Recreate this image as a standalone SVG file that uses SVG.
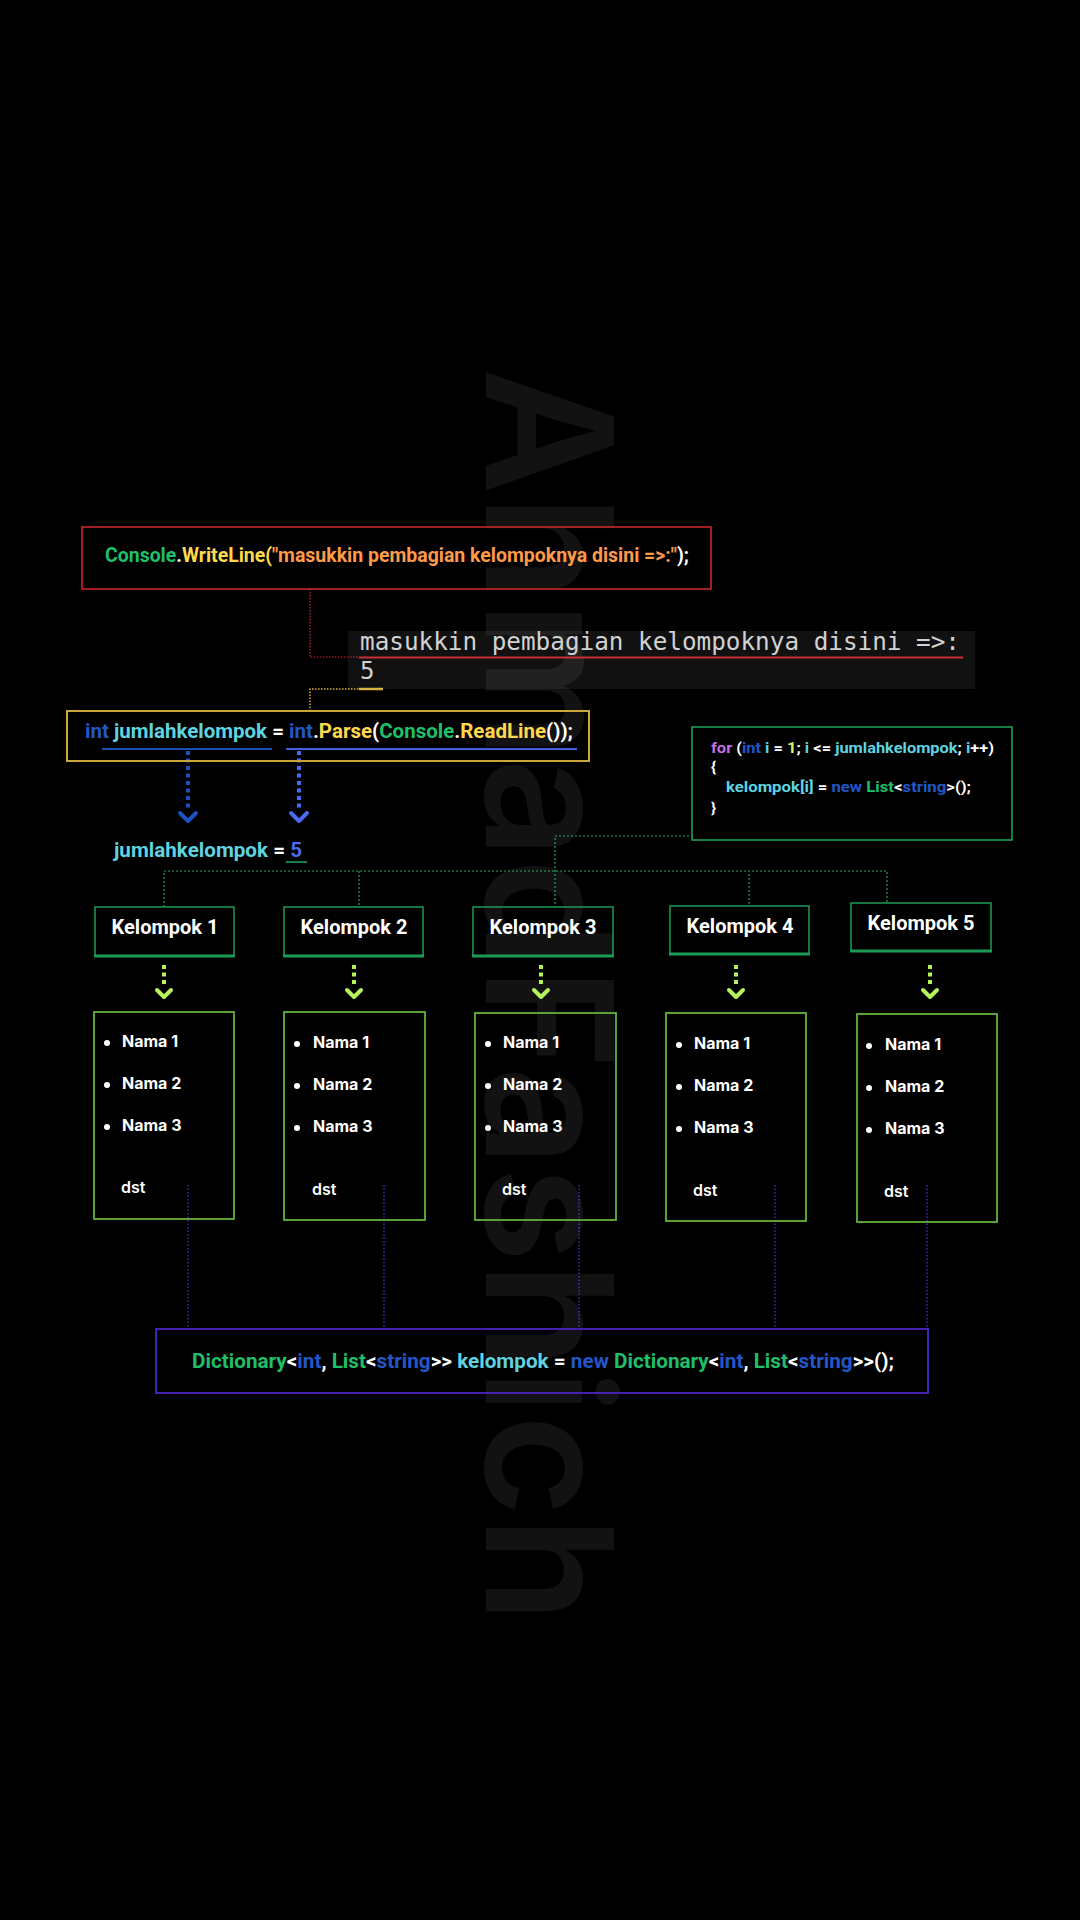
<svg xmlns="http://www.w3.org/2000/svg" width="1080" height="1920" viewBox="0 0 1080 1920">
<style>
.code{font-family:Roboto,"Liberation Sans",sans-serif;font-weight:700}
.mono{font-family:"DejaVu Sans Mono","Liberation Mono",monospace;fill:#d2d2d2}
.lbl{font-family:Roboto,"Liberation Sans",sans-serif;font-weight:700;font-size:20px;fill:#ffffff;text-anchor:middle}
.nm{font-family:Inter,"Liberation Sans",sans-serif;font-weight:700;font-size:16px;fill:#ffffff}
.dst{font-family:Inter,"Liberation Sans",sans-serif;font-weight:600;font-size:16px;fill:#ffffff}
.kbox{fill:none;stroke:#1c9b56;stroke-width:1.5}
.kbot{stroke:#1c9b56;stroke-width:3}
.nbox{fill:none;stroke:#62b23a;stroke-width:1.8}
.gdot{fill:none;stroke:#1fa85c;stroke-width:1.2;stroke-dasharray:2 2}
.pdot{fill:none;stroke:#5a32e6;stroke-width:1.2;stroke-dasharray:1.5 2}
.lime{fill:none;stroke:#b6f25a;stroke-width:4;stroke-dasharray:4 3.5}
.limeh{fill:none;stroke:#b6f25a;stroke-width:4;stroke-linecap:round;stroke-linejoin:round}
.w{fill:#ffffff}.g{fill:#1fbf6a}.y{fill:#ffd84d}.o{fill:#ff9a4a}.b{fill:#2157c8}.c{fill:#5fd3e0}.p{fill:#c46ee0}
</style>
<rect width="1080" height="1920" fill="#000000"/>
<text transform="translate(486,368) rotate(90)" font-family="Inter,'Liberation Sans',sans-serif" font-weight="600" font-size="176" fill="#121212" textLength="1255" lengthAdjust="spacingAndGlyphs">AhmadFashich</text>

<g id="connectors">
  <path d="M310,589 V657 H359" fill="none" stroke="#d0262e" stroke-width="1.2" stroke-dasharray="1.5 1.5"/>
  <line x1="359" y1="657.5" x2="963" y2="657.5" stroke="#c4202a" stroke-width="2"/>
  <path d="M310,711 V689 H359" fill="none" stroke="#d6b23a" stroke-width="1.5" stroke-dasharray="1.5 1.5"/>
  <line x1="359" y1="689" x2="383" y2="689" stroke="#d6b23a" stroke-width="2.5"/>
  <line x1="102" y1="749" x2="272" y2="749" stroke="#1a4fb0" stroke-width="2"/>
  <line x1="286" y1="749" x2="577" y2="749" stroke="#3c60e0" stroke-width="2"/>
  <line x1="188" y1="751" x2="188" y2="811" stroke="#1a52c0" stroke-width="4" stroke-dasharray="4 3.5"/>
  <path d="M180,813 L188,821 L196,813" fill="none" stroke="#1a52c0" stroke-width="4" stroke-linecap="round" stroke-linejoin="round"/>
  <line x1="299" y1="751" x2="299" y2="811" stroke="#4a6af0" stroke-width="4" stroke-dasharray="4 3.5"/>
  <path d="M291,813 L299,821 L307,813" fill="none" stroke="#4a6af0" stroke-width="4" stroke-linecap="round" stroke-linejoin="round"/>
  <line x1="286" y1="862" x2="307" y2="862" stroke="#1fa85c" stroke-width="1.5"/>
  <path class="gdot" d="M693,836 H555 V908"/>
  <path class="gdot" d="M164,907 V871 H887 V903"/>
  <path class="gdot" d="M359,871 V907"/>
  <path class="gdot" d="M749,874 V906"/>
  <line class="lime" x1="164" y1="965" x2="164" y2="987"/><path class="limeh" d="M157,990 L164,997 L171,990"/>
  <line class="lime" x1="354" y1="965" x2="354" y2="987"/><path class="limeh" d="M347,990 L354,997 L361,990"/>
  <line class="lime" x1="541" y1="965" x2="541" y2="987"/><path class="limeh" d="M534,990 L541,997 L548,990"/>
  <line class="lime" x1="736" y1="965" x2="736" y2="987"/><path class="limeh" d="M729,990 L736,997 L743,990"/>
  <line class="lime" x1="930" y1="965" x2="930" y2="987"/><path class="limeh" d="M923,990 L930,997 L937,990"/>
  <line class="pdot" x1="188" y1="1185" x2="188" y2="1329"/>
  <line class="pdot" x1="384" y1="1185" x2="384" y2="1329"/>
  <line class="pdot" x1="579" y1="1185" x2="579" y2="1329"/>
  <line class="pdot" x1="775" y1="1185" x2="775" y2="1329"/>
  <line class="pdot" x1="927" y1="1185" x2="927" y2="1329"/>
</g>

<g id="writeline">
  <rect x="82" y="527" width="629" height="62" fill="none" stroke="#d8262e" stroke-width="1.5"/>
  <text class="code" x="105" y="562" font-size="20" textLength="584" lengthAdjust="spacingAndGlyphs"><tspan class="g">Console</tspan><tspan class="w">.</tspan><tspan class="y">WriteLine(</tspan><tspan class="o">"masukkin pembagian kelompoknya disini =&gt;:"</tspan><tspan class="w">);</tspan></text>
</g>

<g id="console-output">
  <rect x="348" y="631" width="627" height="58" fill="#ffffff" fill-opacity="0.065"/>
  <text class="mono" x="360" y="650" font-size="24" textLength="600" lengthAdjust="spacingAndGlyphs">masukkin pembagian kelompoknya disini =&gt;:</text>
  <text class="mono" x="360" y="679" font-size="24">5</text>
</g>

<g id="readline">
  <rect x="67" y="711" width="522" height="50" fill="none" stroke="#c9a83a" stroke-width="2"/>
  <text class="code" x="85" y="738" font-size="21" textLength="488" lengthAdjust="spacingAndGlyphs"><tspan class="b">int</tspan><tspan class="w"> </tspan><tspan class="c">jumlahkelompok</tspan><tspan class="w"> = </tspan><tspan class="b">int</tspan><tspan class="w">.</tspan><tspan class="y">Parse</tspan><tspan class="w">(</tspan><tspan class="g">Console</tspan><tspan class="w">.</tspan><tspan class="y">ReadLine</tspan><tspan class="w">());</tspan></text>
</g>

<g id="value">
  <text class="code" x="114" y="857" font-size="21" textLength="188" lengthAdjust="spacingAndGlyphs"><tspan class="c">jumlahkelompok</tspan><tspan class="w"> = </tspan><tspan fill="#4a6af0">5</tspan></text>
</g>

<g id="forloop">
  <rect x="692" y="727" width="320" height="113" fill="none" stroke="#1ea85c" stroke-width="1.5"/>
  <text class="code" x="711" y="753" font-size="15.5" textLength="283" lengthAdjust="spacingAndGlyphs"><tspan class="p">for</tspan><tspan class="w"> (</tspan><tspan class="b">int</tspan><tspan class="c"> i</tspan><tspan class="w"> = </tspan><tspan fill="#d6f46a">1</tspan><tspan class="w">; </tspan><tspan class="c">i</tspan><tspan class="w"> &lt;= </tspan><tspan class="c">jumlahkelompok</tspan><tspan class="w">; </tspan><tspan class="c">i</tspan><tspan class="w">++)</tspan></text>
  <text class="code w" x="711" y="772" font-size="15.5">{</text>
  <text class="code" x="726" y="792" font-size="15.5" textLength="245" lengthAdjust="spacingAndGlyphs"><tspan class="c">kelompok[i]</tspan><tspan class="w"> = </tspan><tspan class="b">new</tspan><tspan class="w"> </tspan><tspan class="g">List</tspan><tspan class="w">&lt;</tspan><tspan class="b">string</tspan><tspan class="w">&gt;();</tspan></text>
  <text class="code w" x="711" y="813" font-size="15.5">}</text>
</g>

<g id="kelompok1">
  <rect class="kbox" x="95" y="907" width="139" height="49"/><line class="kbot" x1="94" y1="956" x2="235" y2="956"/>
  <text class="lbl" x="165" y="934">Kelompok 1</text>
</g>
<g id="kelompok2">
  <rect class="kbox" x="284" y="907" width="139" height="49"/><line class="kbot" x1="283" y1="956" x2="424" y2="956"/>
  <text class="lbl" x="354" y="934">Kelompok 2</text>
</g>
<g id="kelompok3">
  <rect class="kbox" x="473" y="907" width="140" height="49"/><line class="kbot" x1="472" y1="956" x2="614" y2="956"/>
  <text class="lbl" x="543" y="934">Kelompok 3</text>
</g>
<g id="kelompok4">
  <rect class="kbox" x="670" y="906" width="139" height="48"/><line class="kbot" x1="669" y1="954" x2="810" y2="954"/>
  <text class="lbl" x="740" y="933">Kelompok 4</text>
</g>
<g id="kelompok5">
  <rect class="kbox" x="851" y="903" width="140" height="48"/><line class="kbot" x1="850" y1="951" x2="992" y2="951"/>
  <text class="lbl" x="921" y="930">Kelompok 5</text>
</g>

<g id="anggota1">
  <rect class="nbox" x="94" y="1012" width="140" height="207"/>
  <circle cx="107" cy="1043" r="3" fill="#fff"/><circle cx="107" cy="1085" r="3" fill="#fff"/><circle cx="107" cy="1127" r="3" fill="#fff"/>
  <text class="nm" x="122" y="1047">Nama 1</text><text class="nm" x="122" y="1089">Nama 2</text><text class="nm" x="122" y="1131">Nama 3</text>
  <text class="dst" x="121" y="1193">dst</text>
</g>
<g id="anggota2">
  <rect class="nbox" x="284" y="1012" width="141" height="208"/>
  <circle cx="297" cy="1044" r="3" fill="#fff"/><circle cx="297" cy="1086" r="3" fill="#fff"/><circle cx="297" cy="1128" r="3" fill="#fff"/>
  <text class="nm" x="313" y="1048">Nama 1</text><text class="nm" x="313" y="1090">Nama 2</text><text class="nm" x="313" y="1132">Nama 3</text>
  <text class="dst" x="312" y="1195">dst</text>
</g>
<g id="anggota3">
  <rect class="nbox" x="475" y="1013" width="141" height="207"/>
  <circle cx="488" cy="1044" r="3" fill="#fff"/><circle cx="488" cy="1086" r="3" fill="#fff"/><circle cx="488" cy="1128" r="3" fill="#fff"/>
  <text class="nm" x="503" y="1048">Nama 1</text><text class="nm" x="503" y="1090">Nama 2</text><text class="nm" x="503" y="1132">Nama 3</text>
  <text class="dst" x="502" y="1195">dst</text>
</g>
<g id="anggota4">
  <rect class="nbox" x="666" y="1013" width="140" height="208"/>
  <circle cx="679" cy="1045" r="3" fill="#fff"/><circle cx="679" cy="1087" r="3" fill="#fff"/><circle cx="679" cy="1129" r="3" fill="#fff"/>
  <text class="nm" x="694" y="1049">Nama 1</text><text class="nm" x="694" y="1091">Nama 2</text><text class="nm" x="694" y="1133">Nama 3</text>
  <text class="dst" x="693" y="1196">dst</text>
</g>
<g id="anggota5">
  <rect class="nbox" x="857" y="1014" width="140" height="208"/>
  <circle cx="869" cy="1046" r="3" fill="#fff"/><circle cx="869" cy="1088" r="3" fill="#fff"/><circle cx="869" cy="1130" r="3" fill="#fff"/>
  <text class="nm" x="885" y="1050">Nama 1</text><text class="nm" x="885" y="1092">Nama 2</text><text class="nm" x="885" y="1134">Nama 3</text>
  <text class="dst" x="884" y="1197">dst</text>
</g>

<g id="dictionary">
  <rect x="156" y="1329" width="772" height="64" fill="none" stroke="#4b25c8" stroke-width="1.8"/>
  <text class="code" x="192" y="1368" font-size="21" textLength="702" lengthAdjust="spacingAndGlyphs"><tspan class="g">Dictionary</tspan><tspan class="w">&lt;</tspan><tspan class="b">int</tspan><tspan class="w">, </tspan><tspan class="g">List</tspan><tspan class="w">&lt;</tspan><tspan class="b">string</tspan><tspan class="w">&gt;&gt; </tspan><tspan class="c">kelompok</tspan><tspan class="w"> = </tspan><tspan class="b">new</tspan><tspan class="w"> </tspan><tspan class="g">Dictionary</tspan><tspan class="w">&lt;</tspan><tspan class="b">int</tspan><tspan class="w">, </tspan><tspan class="g">List</tspan><tspan class="w">&lt;</tspan><tspan class="b">string</tspan><tspan class="w">&gt;&gt;();</tspan></text>
</g>
</svg>
